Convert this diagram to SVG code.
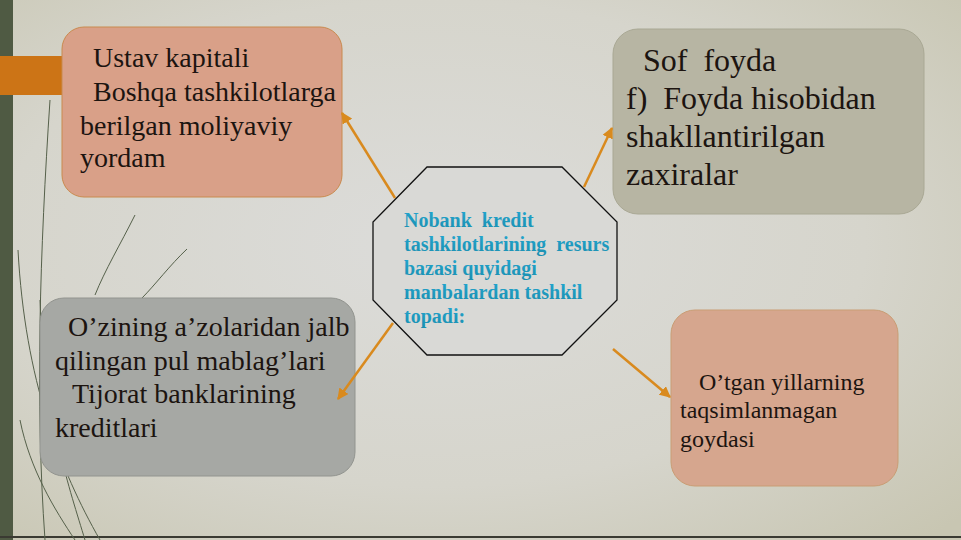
<svg xmlns="http://www.w3.org/2000/svg" width="961" height="540" viewBox="0 0 961 540">
<defs>
<radialGradient id="bg" cx="0.45" cy="0.45" r="0.75">
<stop offset="0" stop-color="#dcdcda"/>
<stop offset="0.6" stop-color="#d6d5cc"/>
<stop offset="1" stop-color="#c8c6b2"/>
</radialGradient>
<linearGradient id="tealtxt" x1="0" y1="0" x2="0" y2="1">
<stop offset="0" stop-color="#23a6cf"/>
<stop offset="1" stop-color="#1a8fb0"/>
</linearGradient>
<marker id="ah" viewBox="0 0 10 10" refX="9" refY="5" markerWidth="4.5" markerHeight="4.5" orient="auto">
<path d="M0,0 L10,5 L0,10 z" fill="#d98a1e"/>
</marker>
<style>
text{white-space:pre}
.box{stroke-width:1}
.t{font-family:"Liberation Serif","Times New Roman","DejaVu Serif",serif;fill:#1c1410}
.oct{font-family:"Liberation Serif","Times New Roman","DejaVu Serif",serif;font-weight:bold;font-size:20px;fill:url(#tealtxt)}
.conn{stroke:#d98a1e;stroke-width:2.5;fill:none;marker-end:url(#ah)}
.deco{fill:none;stroke:#55604a;stroke-width:1}
</style>
</defs>
<rect width="961" height="540" fill="url(#bg)"/>
<rect x="0" y="0" width="13" height="540" fill="#4f5a43"/>
<rect x="0" y="56" width="62" height="39" fill="#cc7416"/>
<line x1="0" y1="537" x2="961" y2="537" stroke="#3a3a32" stroke-width="2"/>
<g id="decoration">
<path class="deco" d="M50,100 C40,250 35,400 45,540"/>
<path class="deco" d="M18,250 C25,380 60,470 100,540"/>
<path class="deco" d="M40,300 C45,420 70,490 85,540"/>
<path class="deco" stroke="#8a8e80" d="M135,215 C120,245 105,270 95,295"/>
<path class="deco" d="M187,249 C170,265 155,285 142,298"/>
<path class="deco" stroke="#9a9c90" d="M20,420 C30,470 55,510 75,540"/>
</g>
<g id="node-ustav">
<rect class="box" x="62" y="27" width="280" height="170" rx="22" fill="#d9a088" stroke="#c98a4e"/>
<text class="t" font-size="28" x="93" y="67">Ustav kapitali</text>
<text class="t" font-size="28" x="93" y="101">Boshqa tashkilotlarga</text>
<text class="t" font-size="28" x="80" y="135">berilgan moliyaviy</text>
<text class="t" font-size="28" x="80" y="167">yordam</text>
</g>
<g id="node-sof">
<rect class="box" x="613" y="29" width="311" height="185" rx="25" fill="#b7b5a3" stroke="#a9a894"/>
<text class="t" font-size="32" x="643" y="71">Sof  foyda</text>
<text class="t" font-size="32" x="626" y="109">f)  Foyda hisobidan</text>
<text class="t" font-size="32" x="626" y="147">shakllantirilgan</text>
<text class="t" font-size="32" x="626" y="185">zaxiralar</text>
</g>
<g id="node-center">
<polygon points="427,167 562,167 617,222 617,300 562,355 427,355 373,300 373,222" fill="#d9d9d6" stroke="#111" stroke-width="1.3"/>
<text class="oct" x="404" y="227">Nobank  kredit</text>
<text class="oct" x="404" y="251">tashkilotlarining  resurs</text>
<text class="oct" x="404" y="275">bazasi quyidagi</text>
<text class="oct" x="404" y="299">manbalardan tashkil</text>
<text class="oct" x="404" y="323">topadi:</text>
</g>
<g id="node-ozining">
<rect class="box" x="40" y="298" width="315" height="178" rx="24" fill="#a6a8a4" stroke="#92948f"/>
<text class="t" font-size="28" x="68" y="336">O’zining a’zolaridan jalb</text>
<text class="t" font-size="28" x="55" y="370">qilingan pul mablag’lari</text>
<text class="t" font-size="28" x="72" y="403">Tijorat banklarining</text>
<text class="t" font-size="28" x="55" y="437">kreditlari</text>
</g>
<g id="node-otgan">
<rect class="box" x="671" y="310" width="227" height="176" rx="24" fill="#d6a68e" stroke="#c99d74"/>
<text class="t" font-size="24" x="699" y="390">O’tgan yillarning</text>
<text class="t" font-size="24" x="680" y="418">taqsimlanmagan</text>
<text class="t" font-size="24" x="680" y="447">goydasi</text>
</g>
<g id="connectors">
<line class="conn" x1="395" y1="198" x2="342" y2="113"/>
<line class="conn" x1="584" y1="187" x2="612" y2="128"/>
<line class="conn" x1="393" y1="323" x2="338" y2="399"/>
<line class="conn" x1="613" y1="349" x2="670" y2="397"/>
</g>
</svg>
